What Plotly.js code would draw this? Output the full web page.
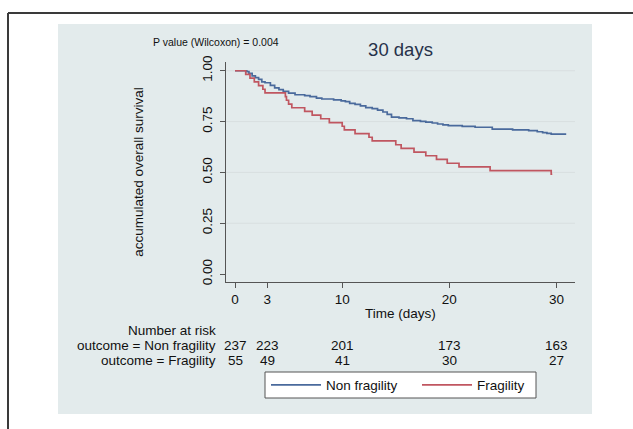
<!DOCTYPE html>
<html>
<head>
<meta charset="utf-8">
<script src="https://cdn.plot.ly/plotly-3.0.1.min.js"></script>
<style>
  html, body { margin: 0; padding: 0; background: #ffffff; }
  #chart { width: 633px; height: 429px; }
</style>
</head>
<body>
<div id="chart"></div>
<script>
// Kaplan–Meier estimates, 30-day follow-up: step times (days) and survival after each step
const nonFragTime = [0, 1.1, 1.3, 1.6, 1.9, 2.2, 2.5, 2.8, 3.3, 3.7, 4.1, 4.5, 5.0, 5.6, 6.5, 7.0, 7.6, 8.1, 9.2, 9.9,
                     10.3, 10.7, 11.2, 11.7, 12.2, 12.8, 13.3, 13.8, 14.2, 14.6, 15.3, 16.0, 16.6, 17.3, 17.8, 18.4,
                     18.9, 19.4, 19.9, 21.2, 22.4, 24.0, 25.9, 27.4, 28.2, 28.7, 29.1, 29.5, 30.9];
const nonFragSurv = [1.000, 0.996, 0.987, 0.975, 0.966, 0.958, 0.945, 0.941, 0.928, 0.916, 0.907, 0.899, 0.890, 0.882,
                     0.878, 0.873, 0.865, 0.861, 0.857, 0.852, 0.848, 0.840, 0.835, 0.827, 0.819, 0.814, 0.806, 0.797,
                     0.785, 0.772, 0.768, 0.764, 0.755, 0.751, 0.747, 0.743, 0.738, 0.734, 0.730, 0.726, 0.722, 0.713,
                     0.709, 0.705, 0.700, 0.696, 0.692, 0.688, 0.688];

const fragTime = [0, 1.0, 1.4, 1.8, 2.2, 2.6, 2.8, 4.7, 4.8, 5.0, 5.3, 6.5, 7.2, 8.0, 8.8, 10.0, 10.2, 11.2, 12.5,
                  12.8, 15.0, 15.5, 16.7, 17.8, 18.8, 19.8, 20.9, 23.8, 29.5, 29.6];
const fragSurv = [1.000, 0.982, 0.964, 0.945, 0.927, 0.909, 0.891, 0.873, 0.855, 0.836, 0.818, 0.800, 0.782, 0.764,
                  0.745, 0.727, 0.709, 0.691, 0.673, 0.655, 0.636, 0.618, 0.600, 0.582, 0.564, 0.545, 0.527, 0.509,
                  0.491, 0.491];

// Number-at-risk table
const riskTimes = [0, 3, 10, 20, 30];
const riskNonFrag = [237, 223, 201, 173, 163];
const riskFrag = [55, 49, 41, 30, 27];
const riskRowLabels = ['outcome = Non fragility', 'outcome = Fragility'];

// Axis ticks
const xTicks = [0, 3, 10, 20, 30];
const yTicks = [0, 0.25, 0.5, 0.75, 1];
const yTickText = ['0.00', '0.25', '0.50', '0.75', '1.00'];

const W = 633, H = 429;
const FONT = 'Liberation Sans, Arial, Helvetica, sans-serif';
const px = v => v / W;            // horizontal pixel -> paper
const py = v => 1 - v / H;        // vertical pixel -> paper

const BLUE = '#4a6a9c';
const RED = '#c05660';
const TXT = { family: FONT, size: 13.5, color: '#111' };

const traces = [
  {
    x: nonFragTime, y: nonFragSurv, name: 'Non fragility',
    type: 'scatter', mode: 'lines', line: { shape: 'hv', color: BLUE, width: 1.7 },
    hoverinfo: 'x+y'
  },
  {
    x: fragTime, y: fragSurv, name: 'Fragility',
    type: 'scatter', mode: 'lines', line: { shape: 'hv', color: RED, width: 1.7 },
    hoverinfo: 'x+y'
  }
];

// Horizontal grid at every labelled level above zero
const gridShapes = yTicks.filter(v => v > 0).map(v => ({
  type: 'line', xref: 'x domain', x0: 0, x1: 1, yref: 'y', y0: v, y1: v,
  line: { color: '#d8dfe0', width: 1 }, layer: 'below'
}));

const annotations = [
  { text: 'P value (Wilcoxon) = 0.004', xref: 'paper', yref: 'paper', x: px(216), y: py(42),
    xanchor: 'center', yanchor: 'middle', showarrow: false, font: { family: FONT, size: 10.5, color: '#111' } },
  { text: 'Number at risk', xref: 'paper', yref: 'paper', x: px(218), y: py(330),
    xanchor: 'right', yanchor: 'middle', showarrow: false, font: TXT },
  { text: riskRowLabels[0], xref: 'paper', yref: 'paper', x: px(218), y: py(345),
    xanchor: 'right', yanchor: 'middle', showarrow: false, font: TXT },
  { text: riskRowLabels[1], xref: 'paper', yref: 'paper', x: px(218), y: py(360),
    xanchor: 'right', yanchor: 'middle', showarrow: false, font: TXT }
];
riskTimes.forEach((t, i) => {
  annotations.push({ text: String(riskNonFrag[i]), xref: 'x', yref: 'paper', x: t, y: py(345),
    xanchor: 'center', yanchor: 'middle', showarrow: false, font: TXT });
  annotations.push({ text: String(riskFrag[i]), xref: 'x', yref: 'paper', x: t, y: py(360),
    xanchor: 'center', yanchor: 'middle', showarrow: false, font: TXT });
});

const layout = {
  width: W, height: H,
  margin: { l: 0, r: 0, t: 0, b: 0 },
  paper_bgcolor: '#ffffff',
  plot_bgcolor: '#ffffff',
  font: { family: FONT, color: '#111' },
  showlegend: true,
  title: {
    text: '30 days', xref: 'container', yref: 'container',
    x: px(400.5), xanchor: 'center', y: py(50), yanchor: 'middle',
    font: { family: FONT, size: 18.5, color: '#27324a' }
  },
  xaxis: {
    domain: [px(226), px(575)],
    range: [-0.84, 31.72],
    tickvals: xTicks,
    ticks: 'outside', ticklen: 5, tickwidth: 1, tickcolor: '#555',
    showline: true, linecolor: '#555', linewidth: 1,
    showgrid: false, zeroline: false,
    tickfont: TXT,
    title: { text: 'Time (days)', standoff: 2, font: TXT },
    fixedrange: true
  },
  yaxis: {
    domain: [py(282), py(62)],
    range: [-0.039, 1.043],
    tickvals: yTicks, ticktext: yTickText, tickangle: -90,
    ticks: 'outside', ticklen: 5, tickwidth: 1, tickcolor: '#555',
    ticklabelstandoff: 3,
    showline: true, linecolor: '#555', linewidth: 1,
    showgrid: false, zeroline: false,
    tickfont: TXT,
    title: { text: 'accumulated overall survival', standoff: 52, font: TXT },
    fixedrange: true
  },
  legend: {
    orientation: 'h',
    x: px(266), xanchor: 'left',
    y: py(385), yanchor: 'middle',
    bgcolor: 'rgba(0,0,0,0)', borderwidth: 0,
    itemwidth: 50,
    entrywidth: 86,
    font: TXT,
    traceorder: 'normal'
  },
  shapes: [
    // light blue-grey graph region
    { type: 'rect', xref: 'paper', yref: 'paper', x0: px(58), x1: px(592), y0: py(414), y1: py(24),
      fillcolor: '#e3ebec', line: { width: 0 }, layer: 'below' },
    // legend frame
    { type: 'rect', xref: 'paper', yref: 'paper', x0: px(265), x1: px(536), y0: py(398), y1: py(372),
      fillcolor: '#ffffff', line: { color: '#555', width: 1 }, layer: 'below' },
    // outer frame (top and left edges)
    { type: 'line', xref: 'paper', yref: 'paper', x0: px(8), x1: 1, y0: py(13), y1: py(13),
      line: { color: '#3a3a3a', width: 2 }, layer: 'above' },
    { type: 'line', xref: 'paper', yref: 'paper', x0: px(8), x1: px(8), y0: py(13), y1: 0,
      line: { color: '#3a3a3a', width: 2 }, layer: 'above' }
  ].concat(gridShapes),
  annotations: annotations
};

Plotly.newPlot('chart', traces, layout, { staticPlot: true, displayModeBar: false });
</script>
</body>
</html>
